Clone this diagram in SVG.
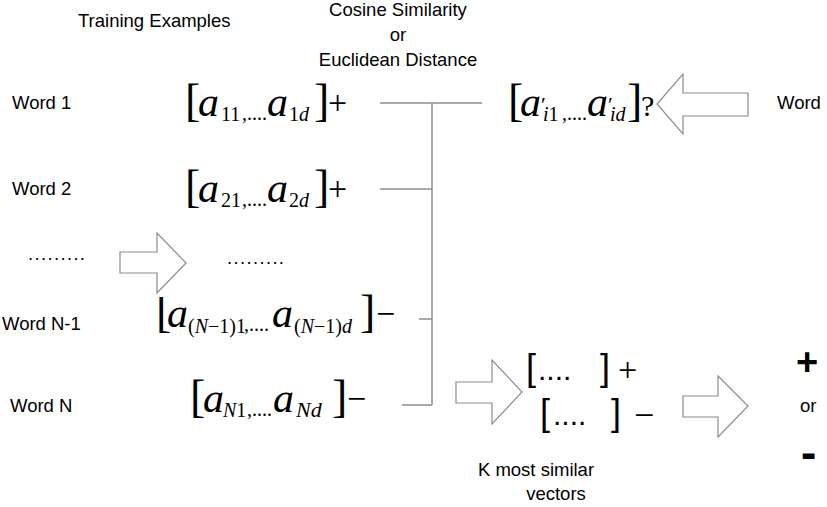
<svg xmlns="http://www.w3.org/2000/svg" width="827" height="507" viewBox="0 0 827 507">
<style>
.lbl{font-family:"Liberation Sans",Arial,sans-serif;font-size:18.5px;fill:#000}
.m{font-family:"Liberation Serif","Times New Roman",serif;fill:#000;font-size:20px}
.br{font-size:46px;font-style:normal}
.a{font-size:42px;font-style:italic}
.s{font-size:20px}
.i{font-style:italic}
.pm{font-size:34px}
.pr{font-size:22px;font-style:normal}
.arrow{fill:#fff;stroke:#8c8c8c;stroke-width:1.2}
.conn{stroke:#8c8c8c;stroke-width:1.5;fill:none}
.sb{font-family:"Liberation Sans",Arial,sans-serif;fill:#000}
</style>
<defs>
<clipPath id="clipN1"><rect x="140" y="297" width="60" height="60"/></clipPath>
</defs>

<g id="headers">
<text class="lbl" x="398" y="16" text-anchor="middle">Cosine Similarity</text>
<text class="lbl" x="78" y="27">Training Examples</text>
<text class="lbl" x="398" y="41" text-anchor="middle">or</text>
<text class="lbl" x="398" y="66" text-anchor="middle">Euclidean Distance</text>
</g>

<g id="words">
<text class="lbl" x="12" y="109">Word 1</text>
<text class="lbl" x="12" y="195">Word 2</text>
<text class="lbl" x="28" y="260" textLength="57">.........</text>
<text class="lbl" x="2" y="330">Word N-1</text>
<text class="lbl" x="10" y="412">Word N</text>
</g>

<g id="connectors">
<line class="conn" x1="380" y1="103" x2="482" y2="103"/>
<line class="conn" x1="432" y1="103" x2="432" y2="405"/>
<line class="conn" x1="380" y1="189" x2="432" y2="189"/>
<line class="conn" x1="419" y1="319" x2="432" y2="319"/>
<line class="conn" x1="402" y1="405" x2="432" y2="405"/>
</g>

<g id="vec1">
<text class="m"><tspan class="br" x="185" y="116">[</tspan><tspan class="a" x="198" y="116">a</tspan><tspan x="221" y="121">11</tspan><tspan x="242" y="120">,....</tspan><tspan class="a" x="267" y="116">a</tspan><tspan x="289" y="121">1</tspan><tspan class="i">d</tspan><tspan class="br" x="314" y="116">]</tspan><tspan class="pm" x="328" y="114">+</tspan></text>
</g>

<g id="vec2">
<text class="m"><tspan class="br" x="185" y="202">[</tspan><tspan class="a" x="198" y="202">a</tspan><tspan x="221" y="207">21</tspan><tspan x="242" y="206">,....</tspan><tspan class="a" x="267" y="202">a</tspan><tspan x="289" y="207">2</tspan><tspan class="i">d</tspan><tspan class="br" x="314" y="202">]</tspan><tspan class="pm" x="328" y="200">+</tspan></text>
</g>

<g id="dots2">
<text class="lbl" x="227" y="264" textLength="57">.........</text>
</g>

<g id="vecN1">
<text class="m br" x="156" y="327" clip-path="url(#clipN1)">[</text>
<text class="m"><tspan class="a" x="167" y="327">a</tspan><tspan x="188" y="333">(</tspan><tspan class="i">N</tspan><tspan>−1)1</tspan><tspan x="244" y="331">,....</tspan><tspan class="a" x="272" y="327">a</tspan><tspan x="294" y="333">(</tspan><tspan class="i">N</tspan><tspan>−1)</tspan><tspan class="i">d</tspan><tspan class="br" x="360" y="327">]</tspan><tspan class="pm" x="376" y="325">−</tspan></text>
</g>

<g id="vecN">
<text class="m"><tspan class="br" x="190" y="412">[</tspan><tspan class="a" x="203" y="412">a</tspan><tspan class="i" x="223" y="417">N</tspan><tspan>1</tspan><tspan x="247" y="416">,....</tspan><tspan class="a" x="273" y="412">a</tspan><tspan class="i" x="296" y="417" font-size="22">Nd</tspan><tspan class="br" x="332" y="412">]</tspan><tspan class="pm" x="347" y="410">−</tspan></text>
</g>

<g id="query">
<text class="m"><tspan class="br" x="508" y="116">[</tspan><tspan class="a" x="520" y="116">a</tspan><tspan class="pr" x="541" y="112">′</tspan><tspan class="i" x="543" y="121">i</tspan><tspan>1</tspan><tspan x="562" y="120">,....</tspan><tspan class="a" x="587" y="116">a</tspan><tspan class="pr" x="608" y="112">′</tspan><tspan class="i" x="610" y="121">id</tspan><tspan class="br" x="627" y="116">]</tspan><tspan x="641" y="116" font-size="30">?</tspan></text>
</g>

<g id="word-right">
<text class="lbl" x="777" y="109">Word</text>
</g>

<g id="arrows">
<polygon id="arrow-mid" class="arrow" points="120,252 157,252 157,233 186,263 157,293 157,273 120,273"/>
<polygon id="arrow-query" class="arrow" points="748,93 683,93 683,74 657,104 683,134 683,116 748,116"/>
<polygon id="arrow-k" class="arrow" points="456,382 492,382 492,360 522,392 492,424 492,403 456,403"/>
<polygon id="arrow-out" class="arrow" points="683,396 718,396 718,376 748,406 718,437 718,417 683,417"/>
</g>

<g id="kvectors">
<text class="sb" font-size="36"><tspan x="526" y="380">[</tspan><tspan x="538" y="380" font-size="30">....</tspan><tspan x="600" y="380">]</tspan><tspan x="618" y="381" font-family="Liberation Serif, serif" font-size="34">+</tspan></text>
<text class="sb" font-size="36"><tspan x="540" y="425">[</tspan><tspan x="553" y="425" font-size="30">....</tspan><tspan x="611" y="425">]</tspan><tspan x="634" y="427" font-family="Liberation Serif, serif">−</tspan></text>
<text class="lbl" x="536" y="476" text-anchor="middle">K most similar</text>
<text class="lbl" x="556" y="500" text-anchor="middle">vectors</text>
</g>

<g id="result">
<text class="sb" x="796" y="375" font-size="38" font-weight="bold">+</text>
<text class="lbl" x="800" y="412">or</text>
<text class="sb" x="801" y="468" font-size="46" font-weight="bold">-</text>
</g>
</svg>
